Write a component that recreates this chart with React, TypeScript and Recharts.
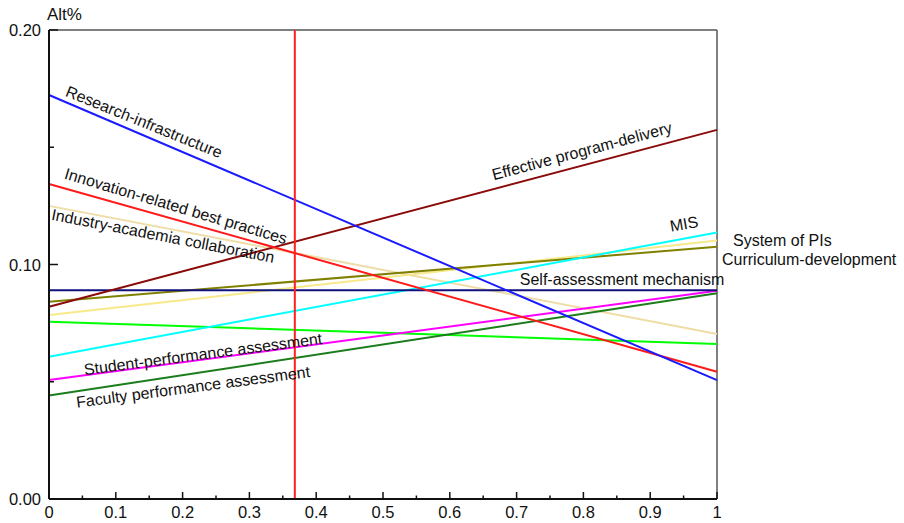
import React from 'react';
import { LineChart, Line, XAxis, YAxis, ReferenceLine, ReferenceDot, Label } from 'recharts';

// ---- data ----
const weights = [0, 1];
const researchInfrastructure = [0.1723, 0.0507];
const innovationBestPractices = [0.1343, 0.0543];
const industryAcademia = [0.125, 0.0704];
const effectiveProgramDelivery = [0.082, 0.1574];
const selfAssessment = [0.089, 0.089];
const curriculumDevelopment = [0.0841, 0.1076];
const systemOfPIs = [0.0785, 0.1102];
const mis = [0.0607, 0.1136];
const otherCriterion = [0.0756, 0.0661];
const studentPerformance = [0.0507, 0.0888];
const facultyPerformance = [0.0441, 0.0877];
const currentWeight = 0.368;

const xTicks = [0, 0.05, 0.1, 0.15, 0.2, 0.25, 0.3, 0.35, 0.4, 0.45, 0.5, 0.55, 0.6, 0.65, 0.7, 0.75, 0.8, 0.85, 0.9, 0.95, 1];
const yTicks = [0, 0.05, 0.1, 0.15, 0.2];

const data = weights.map((w, i) => ({
  w,
  research: researchInfrastructure[i],
  innovation: innovationBestPractices[i],
  industry: industryAcademia[i],
  effective: effectiveProgramDelivery[i],
  self: selfAssessment[i],
  curriculum: curriculumDevelopment[i],
  pis: systemOfPIs[i],
  mis: mis[i],
  other: otherCriterion[i],
  student: studentPerformance[i],
  faculty: facultyPerformance[i],
}));

const series = [
  { key: 'other', color: '#00FF00' },
  { key: 'industry', color: '#EEDDA6' },
  { key: 'pis', color: '#F7E98A' },
  { key: 'curriculum', color: '#808000' },
  { key: 'mis', color: '#00FFFF' },
  { key: 'student', color: '#FF00FF' },
  { key: 'faculty', color: '#1B7D1B' },
  { key: 'self', color: '#10107F' },
  { key: 'effective', color: '#8B0A0A' },
  { key: 'innovation', color: '#FF1A1A' },
  { key: 'research', color: '#1A1AFF' },
];

// annotation anchors (data units)
const annotations = [
  { text: 'Research-infrastructure', x: 0.1422, y: 0.1608, angle: 22, anchor: 'middle', dx: 0 },
  { text: 'Innovation-related best practices', x: 0.1901, y: 0.1249, angle: 16.5, anchor: 'middle', dx: 0 },
  { text: 'Industry-academia collaboration', x: 0.1707, y: 0.1122, angle: 11, anchor: 'middle', dx: 0 },
  { text: 'Effective program-delivery', x: 0.7979, y: 0.1484, angle: -15, anchor: 'middle', dx: 0 },
  { text: 'MIS', x: 0.9506, y: 0.1173, angle: -10, anchor: 'middle', dx: 0 },
  { text: 'System of PIs', x: 1, y: 0.1104, angle: 0, anchor: 'start', dx: 16 },
  { text: 'Curriculum-development', x: 1, y: 0.1023, angle: 0, anchor: 'start', dx: 5 },
  { text: 'Self-assessment mechanism', x: 0.8578, y: 0.0938, angle: 0, anchor: 'middle', dx: 0 },
  { text: 'Student-performance assessment', x: 0.2305, y: 0.0618, angle: -7.5, anchor: 'middle', dx: 0 },
  { text: 'Faculty performance assessment', x: 0.2156, y: 0.0478, angle: -7.5, anchor: 'middle', dx: 0 },
];

const FONT = '"Liberation Sans", Arial, Helvetica, sans-serif';

const isMajor = (v: number) => Math.abs(v * 10 - Math.round(v * 10)) < 1e-6;

const XTick = (props: any) => {
  const { x, y, payload } = props;
  const v = payload.value as number;
  const major = isMajor(v);
  const label = v === 0 ? '0' : v === 1 ? '1' : v.toFixed(1);
  return (
    <g>
      <line x1={x} y1={y} x2={x} y2={y - (major ? 7 : 3.5)} stroke="#111" strokeWidth={1.5} />
      {major && (
        <text x={x} y={y + 19} textAnchor="middle" fontSize={16.5} fontFamily={FONT} fill="#111">
          {label}
        </text>
      )}
    </g>
  );
};

const YTick = (props: any) => {
  const { x, y, payload } = props;
  const v = payload.value as number;
  const major = isMajor(v);
  return (
    <g>
      <line x1={x} y1={y} x2={x + (major ? 9 : 5)} y2={y} stroke="#111" strokeWidth={1.5} />
      {major && (
        <text x={x - 8} y={y + 6} textAnchor="end" fontSize={16.5} fontFamily={FONT} fill="#111">
          {v.toFixed(2)}
        </text>
      )}
    </g>
  );
};

const makeLabel = (a: any) => (props: any) => {
  const { cx, cy } = props;
  const px = cx + a.dx;
  return (
    <text
      x={px}
      y={cy}
      transform={`rotate(${a.angle}, ${px}, ${cy})`}
      textAnchor={a.anchor}
      dominantBaseline="central"
      fontSize={16}
      fontFamily={FONT}
      fill="#111"
    >
      {a.text}
    </text>
  );
};

export default function App() {
  return (
    <div style={{ position: 'absolute', left: 0, top: 0, width: 904, height: 523, background: '#fff' }}>
      <LineChart width={904} height={523} data={data} margin={{ top: 30, right: 187, bottom: 0, left: 9 }}>
        <XAxis
          dataKey="w"
          type="number"
          domain={[0, 1]}
          ticks={xTicks}
          interval={0}
          height={24}
          tickSize={0}
          tickMargin={0}
          tick={<XTick />}
          axisLine={{ stroke: '#111', strokeWidth: 2 }}
          tickLine={false}
        />
        <YAxis
          type="number"
          domain={[0, 0.2]}
          ticks={yTicks}
          interval={0}
          width={40}
          tickSize={0}
          tickMargin={0}
          tick={<YTick />}
          axisLine={{ stroke: '#111', strokeWidth: 2 }}
          tickLine={false}
        >
          <Label
            content={(p: any) => {
              const vb = p.viewBox || { x: 9, y: 30, width: 40 };
              return (
                <text x={vb.x + vb.width - 2} y={vb.y - 10} fontSize={17} fontFamily={FONT} fill="#111">
                  Alt%
                </text>
              );
            }}
          />
        </YAxis>
        <ReferenceLine y={0.2} stroke="#555" strokeWidth={1.5} />
        <ReferenceLine x={1} stroke="#555" strokeWidth={1.5} />
        {series.map((s) => (
          <Line
            key={s.key}
            dataKey={s.key}
            stroke={s.color}
            strokeWidth={2}
            dot={false}
            activeDot={false}
            isAnimationActive={false}
            type="linear"
          />
        ))}
        <ReferenceLine x={currentWeight} stroke="#FF2020" strokeWidth={2} />
        {annotations.map((a) => (
          <ReferenceDot key={a.text} x={a.x} y={a.y} r={0} shape={makeLabel(a)} />
        ))}
      </LineChart>
    </div>
  );
}
